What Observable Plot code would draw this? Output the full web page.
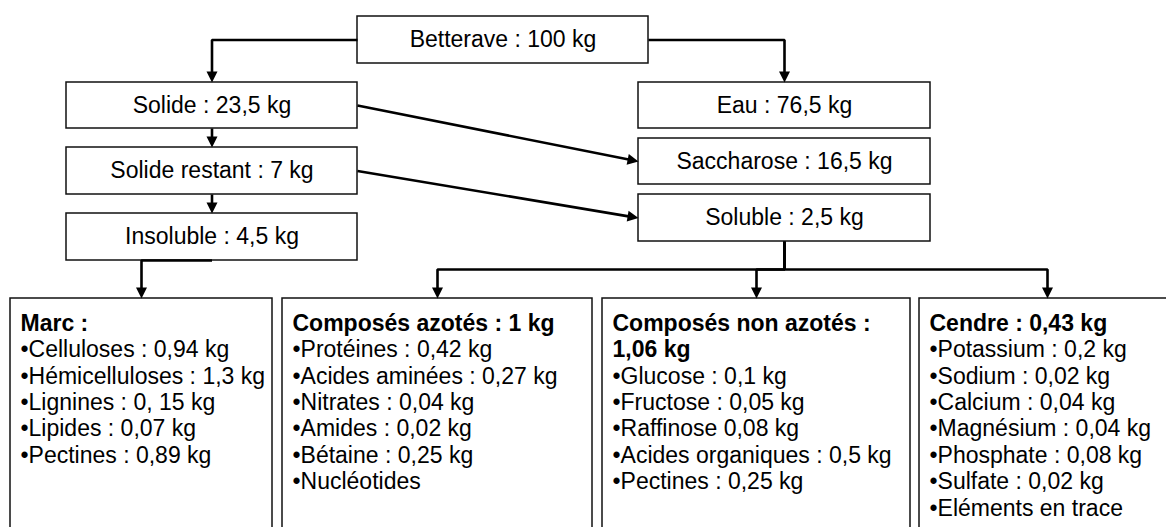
<!DOCTYPE html>
<html><head><meta charset="utf-8">
<script src="https://cdn.jsdelivr.net/npm/d3@7"></script>
<script src="https://cdn.jsdelivr.net/npm/@observablehq/plot@0.6"></script>
<style>html,body{margin:0;padding:0;background:#fff;overflow:hidden}</style>
</head><body><div id="chart"></div>
<script>
// ---------- data ----------
const nodeIds = ["betterave","solide","restant","insoluble","eau","saccharose","soluble"];
const nodeLabels = ["Betterave : 100 kg","Solide : 23,5 kg","Solide restant : 7 kg","Insoluble : 4,5 kg","Eau : 76,5 kg","Saccharose : 16,5 kg","Soluble : 2,5 kg"];
const groupIds = ["marc","azotes","nonazotes","cendre"];
const groupTitles = [["Marc :"],["Composés azotés : 1 kg"],["Composés non azotés :","1,06 kg"],["Cendre : 0,43 kg"]];
const groupItems = [
  ["Celluloses : 0,94 kg","Hémicelluloses : 1,3 kg","Lignines : 0, 15 kg","Lipides : 0,07 kg","Pectines : 0,89 kg"],
  ["Protéines : 0,42 kg","Acides aminées : 0,27 kg","Nitrates : 0,04 kg","Amides : 0,02 kg","Bétaine : 0,25 kg","Nucléotides"],
  ["Glucose : 0,1 kg","Fructose : 0,05 kg","Raffinose 0,08 kg","Acides organiques : 0,5 kg","Pectines : 0,25 kg"],
  ["Potassium : 0,2 kg","Sodium : 0,02 kg","Calcium : 0,04 kg","Magnésium : 0,04 kg","Phosphate : 0,08 kg","Sulfate : 0,02 kg","Eléments en trace"]
];
const flows = [
  ["betterave","solide"],["betterave","eau"],["solide","restant"],["restant","insoluble"],
  ["solide","saccharose"],["restant","soluble"],["insoluble","marc"],
  ["soluble","azotes"],["soluble","nonazotes"],["soluble","cendre"]
];

// ---------- layout ----------
const W = 1166, H = 527;
const nodeGeom = {
  betterave:[357,648,16,63], solide:[66,357,82,128], restant:[66,357,147,194], insoluble:[66,357,213,260],
  eau:[638,930,82,128], saccharose:[638,930,138,184], soluble:[638,930,194,241]
};
const groupX = {marc:[10,272], azotes:[282,592], nonazotes:[602,910], cendre:[919,1175]};
const groupTop = 298, groupBottom = 560, busY = 269;
const firstLine = 323, lineStep = 26.4, pad = 10;
const FONT = 23, ARROW = 11;

function box(id) {
  if (nodeGeom[id]) { const [x1,x2,y1,y2] = nodeGeom[id]; return {x1,x2,y1,y2,cx:(x1+x2)/2,cy:(y1+y2)/2,group:false}; }
  const [x1,x2] = groupX[id]; return {x1,x2,y1:groupTop,y2:groupBottom,cx:(x1+x2)/2,cy:(groupTop+groupBottom)/2,group:true};
}

const boxes = [
  ...nodeIds.map((id,i)=>({id,label:nodeLabels[i],...box(id)})),
  ...groupIds.map(id=>({id,...box(id)}))
];

function route(s,t){
  const S = box(s), T = box(t);
  if (s === "betterave") {
    const sx = T.cx < S.x1 ? S.x1 : S.x2;
    return [[sx,S.cy],[T.cx,S.cy],[T.cx,T.y1]];
  }
  if (T.group && s === "insoluble") return [[S.cx,S.y2],[T.cx,S.y2],[T.cx,T.y1]];
  if (T.group) return [[S.cx,S.y2],[S.cx,busY],[T.cx,busY],[T.cx,T.y1]];
  if (Math.abs(S.cx - T.cx) < 1) return [[S.cx,S.y2],[T.cx,T.y1]];
  return [[S.x2,S.cy],[T.x1,T.cy]];
}

const linePts = [], heads = [];
flows.forEach(([s,t],k)=>{
  const pts = route(s,t);
  const [ax,ay] = pts[pts.length-2], [bx,by] = pts[pts.length-1];
  const len = Math.hypot(bx-ax,by-ay), ux=(bx-ax)/len, uy=(by-ay)/len;
  const trimmed = pts.slice(0,-1).concat([[bx-ux*(ARROW-1), by-uy*(ARROW-1)]]);
  trimmed.forEach(([x,y])=>linePts.push({id:k,x,y}));
  heads.push({x:bx,y:by,rot:Math.atan2(uy,ux)*180/Math.PI-90});
});

const arrowSymbol = {draw(ctx){ ctx.moveTo(0,0); ctx.lineTo(-5.5,-ARROW); ctx.lineTo(5.5,-ARROW); ctx.closePath(); }};

const textRows = [];
groupIds.forEach((id,g)=>{
  const B = box(id); let i = 0;
  groupTitles[g].forEach(t=>textRows.push({x:B.x1+pad,y:firstLine+lineStep*(i++),text:t,bold:true}));
  groupItems[g].forEach(t=>textRows.push({x:B.x1+pad,y:firstLine+lineStep*(i++),text:"\u2022"+t,bold:false}));
});

const chart = Plot.plot({
  width: W, height: H, margin: 0,
  x: {domain:[0,W], range:[0,W], axis:null},
  y: {domain:[0,H], range:[0,H], axis:null},
  style: {fontFamily:"'Liberation Sans', Arial, sans-serif", background:"white", overflow:"hidden"},
  marks: [
    Plot.rect(boxes, {x1:"x1", x2:"x2", y1:"y1", y2:"y2", fill:"white", stroke:"#111", strokeWidth:1.5}),
    Plot.line(linePts, {x:"x", y:"y", z:"id", stroke:"black", strokeWidth:2.6, strokeLinejoin:"miter", strokeLinecap:"butt", curve:"linear"}),
    Plot.dot(heads, {x:"x", y:"y", rotate:"rot", symbol:arrowSymbol, fill:"black", stroke:null}),
    Plot.text(boxes.filter(d=>d.label), {x:"cx", y:"cy", text:"label", fontSize:FONT, fill:"black"}),
    Plot.text(textRows.filter(d=>d.bold), {x:"x", y:"y", text:"text", textAnchor:"start", fontSize:FONT, fontWeight:"bold", fill:"black"}),
    Plot.text(textRows.filter(d=>!d.bold), {x:"x", y:"y", text:"text", textAnchor:"start", fontSize:FONT, fill:"black"})
  ]
});
document.getElementById("chart").appendChild(chart);
</script>
</body></html>
